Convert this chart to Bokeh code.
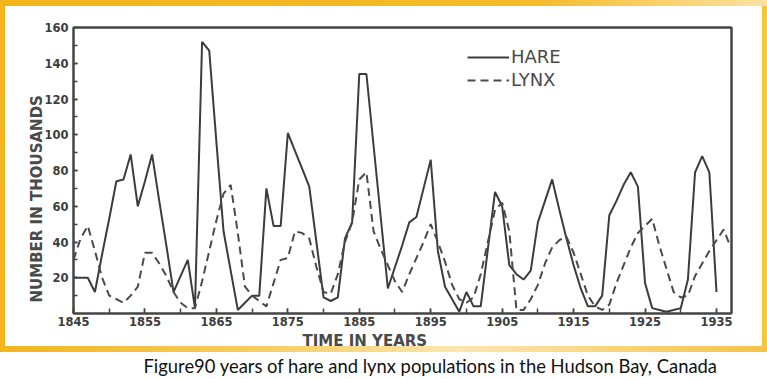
from bokeh.plotting import figure
from bokeh.models import (FixedTicker, Range1d, Legend, LegendItem, ColumnDataSource,
                          LinearAxis, Title)
from bokeh.embed import file_html
from bokeh.resources import INLINE

# ---- data (thousands of pelts) ----
hare_years = list(range(1845, 1936))
hare = [20, 20, 20, 12, 33, 53, 74, 75, 89, 60,      # 1845-1854
        74, 89, 63, 38, 12, 21, 30, 3, 152, 147,     # 1855-1864
        96, 46, 24, 2, 6, 10, 10, 70, 49, 49,        # 1865-1874
        101, 91, 81, 71, 40, 9, 7, 9, 42, 51,        # 1875-1884
        134, 134, 94, 54, 14, 26, 38, 51, 54, 70,    # 1885-1894
        86, 35, 15, 8, 1, 12, 4, 4, 36, 68,          # 1895-1904
        60, 27, 22, 19, 24, 51, 63, 75, 58, 42,      # 1905-1914
        27, 14, 4, 4, 10, 55, 63, 72, 79, 71,        # 1915-1924
        17, 3, 2, 1, 2, 3, 19, 79, 88, 79,           # 1925-1934
        12]                                          # 1935

lynx_years = list(range(1845, 1938))
lynx = [30, 42, 49, 35, 20, 10, 8, 6, 10, 15,        # 1845-1854
        34, 34, 28, 21, 12, 6, 3, 3, 18, 35,         # 1855-1864
        52, 67, 72, 45, 15, 10, 7, 4, 17, 30,        # 1865-1874
        31, 46, 45, 42, 26, 12, 11, 22, 40, 51,      # 1875-1884
        75, 79, 46, 36, 27, 18, 12, 22, 31, 40,      # 1885-1894
        50, 40, 29, 16, 8, 6, 9, 22, 40, 58,         # 1895-1904
        62, 46, 2, 2, 8, 16, 28, 37, 41, 43,         # 1905-1914
        34, 22, 10, 4, 2, 5, 17, 27, 37, 45,         # 1915-1924
        49, 53, 38, 25, 12, 9, 10, 21, 28, 35,       # 1925-1934
        41, 47, 37]                                  # 1935-1937

x_tick_labels = [1845, 1855, 1865, 1875, 1885, 1895, 1905, 1915, 1925, 1935]
x_minor = list(range(1845, 1940, 5))
y_tick_labels = [20, 40, 60, 80, 100, 120, 140, 160]
y_minor = list(range(10, 160, 10))

x_label = "TIME IN YEARS"
y_label = "NUMBER IN THOUSANDS"
caption = "Figure90 years of hare and lynx populations in the Hudson Bay, Canada"

INK = "#454545"

# slide decoration (orange strips) painted behind the transparent canvas border
slide_bg = ", ".join([
    "linear-gradient(to right, #f4b41c 0%, #f6bb2a 70%, #fbe2a2 100%) 0px 0px / 767px 6px no-repeat",
    "linear-gradient(to right, #f4b41c 0%, #f8cd62 35%, #fce6b0 60%, #f6c246 100%) 0px 346px / 767px 6px no-repeat",
    "linear-gradient(#f4b41c, #f4b41c) 0px 0px / 5px 352px no-repeat",
    "linear-gradient(#f7c53e, #f7c53e) 762px 0px / 5px 352px no-repeat",
    "#ffffff",
])

p = figure(width=767, height=379, output_backend="svg", toolbar_location=None,
           x_range=Range1d(1845, 1937.1), y_range=Range1d(0, 160),
           min_border_left=73, min_border_right=36, min_border_top=27, min_border_bottom=66,
           styles={"background": slide_bg})
p.background_fill_color = "white"
p.border_fill_alpha = 0
p.outline_line_color = INK
p.outline_line_width = 2
p.xgrid.visible = False
p.ygrid.visible = False

xa = p.below[0]
ya = p.left[0]

hs = ColumnDataSource(dict(x=hare_years, y=hare))
ls = ColumnDataSource(dict(x=lynx_years, y=lynx))
r_hare = p.line("x", "y", source=hs, line_color="#3c3c3c", line_width=2)
r_lynx = p.line("x", "y", source=ls, line_color="#4a4a4a", line_width=2, line_dash="8 5")

# frame lines on top and right
p.add_layout(LinearAxis(ticker=FixedTicker(ticks=[]), axis_line_color=INK, axis_line_width=2,
                        major_label_text_alpha=0), "above")
p.add_layout(LinearAxis(ticker=FixedTicker(ticks=[]), axis_line_color=INK, axis_line_width=2,
                        major_label_text_alpha=0), "right")

for ax in (xa, ya):
    ax.axis_line_color = INK
    ax.axis_line_width = 2
    ax.major_tick_line_color = INK
    ax.minor_tick_line_color = INK
    ax.major_tick_line_width = 1.5
    ax.minor_tick_line_width = 1.5
    ax.major_tick_out = 0
    ax.minor_tick_out = 0
    ax.major_label_text_font = "DejaVu Sans"
    ax.major_label_text_font_style = "bold"
    ax.major_label_text_font_size = "11.5px"
    ax.major_label_text_color = "#3d3d3d"

xa.ticker = FixedTicker(ticks=x_tick_labels, minor_ticks=x_minor)
xa.major_tick_in = 5
xa.minor_tick_in = 5
xa.major_label_standoff = 3

ya.ticker = FixedTicker(ticks=y_tick_labels, minor_ticks=y_minor)
ya.major_tick_in = 4
ya.minor_tick_in = 4
ya.major_label_standoff = 5

# axis titles placed as side titles so they can sit where the original has them
p.add_layout(Title(text=x_label, align="left", offset=229, standoff=2,
                   text_font="DejaVu Sans", text_font_size="15px", text_font_style="bold",
                   text_color="#4a4a4a"), "below")
p.add_layout(Title(text=y_label, align="left", offset=11, standoff=-8,
                   text_font="DejaVu Sans", text_font_size="15px", text_font_style="bold",
                   text_color="#4a4a4a"), "left")

legend = Legend(items=[LegendItem(label="HARE", renderers=[r_hare]),
                       LegendItem(label="LYNX", renderers=[r_lynx])],
                location=(394, 223), orientation="vertical")
legend.glyph_width = 42
legend.glyph_height = 18
legend.spacing = 2
legend.padding = 0
legend.margin = 0
legend.label_standoff = 2
legend.label_text_font = "DejaVu Sans"
legend.label_text_font_size = "18px"
legend.label_text_color = "#4a4a4a"
legend.border_line_alpha = 0
legend.background_fill_alpha = 0
p.add_layout(legend, "center")

p.add_layout(Title(text=caption, align="left", offset=70, standoff=4,
                   text_font="Lato", text_font_size="18.4px", text_font_style="normal",
                   text_color="#111111"), "below")

open("out.html", "w").write(file_html(p, INLINE))
